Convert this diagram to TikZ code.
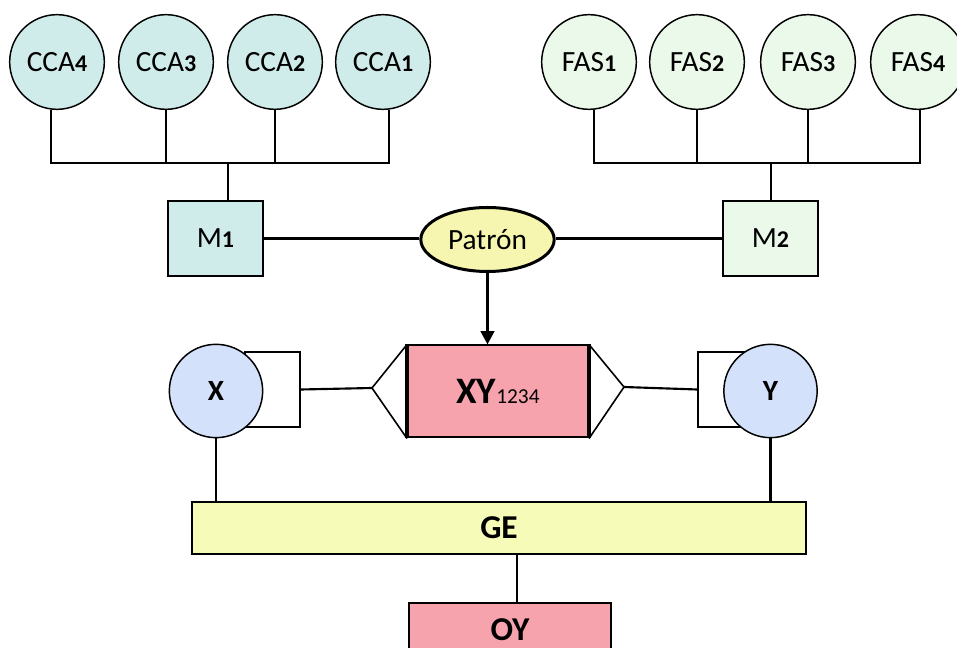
\documentclass[tikz,border=0pt]{standalone}
\usepackage{fontspec}
\setmainfont{Carlito}
\usetikzlibrary{arrows.meta,shapes.geometric}
\definecolor{ccafill}{HTML}{D0ECEA}
\definecolor{fasfill}{HTML}{EAF9EA}
\definecolor{patfill}{HTML}{F6F6B0}
\definecolor{xyfill}{HTML}{F6A3AE}
\definecolor{varfill}{HTML}{D3E1FA}
\definecolor{gefill}{HTML}{F6FBB8}
\newcommand{\dg}[1]{{\fontsize{18}{20}\selectfont\bfseries #1}}

\begin{document}
\begin{tikzpicture}[x=0.75pt, y=-0.75pt,
  ring/.style={circle, draw, line width=1.1pt, minimum size=71pt, inner sep=0pt,
    font=\fontsize{22}{25}\selectfont},
  mbox/.style={rectangle, draw, line width=1.3pt, minimum width=71pt, minimum height=56pt,
    font=\fontsize{22}{25}\selectfont},
  link/.style={line width=1.6pt}]
  \useasboundingbox (0,0) rectangle (957,648);
  \clip (0,0) rectangle (957,648);
  % top row of circles
  \node[ring, fill=ccafill] (cca4) at (57,62) {CCA\dg{4}};
  \node[ring, fill=ccafill] (cca3) at (166,62) {CCA\dg{3}};
  \node[ring, fill=ccafill] (cca2) at (275,62) {CCA\dg{2}};
  \node[ring, fill=ccafill] (cca1) at (383,62) {CCA\dg{1}};
  \node[ring, fill=fasfill] (fas1) at (589,62) {FAS\dg{1}};
  \node[ring, fill=fasfill] (fas2) at (697,62) {FAS\dg{2}};
  \node[ring, fill=fasfill] (fas3) at (808,62) {FAS\dg{3}};
  \node[ring, fill=fasfill] (fas4) at (918,62) {FAS\dg{4}};
  % M boxes and pattern
  \node[mbox, fill=ccafill] (m1) at (215.5,238.5) {M\dg{1}};
  \node[mbox, fill=fasfill] (m2) at (770.5,238.5) {M\dg{2}};
  \node[ellipse, draw, line width=2.25pt, fill=patfill, minimum width=100pt, minimum height=48pt,
    inner sep=0pt, font=\fontsize{22}{25}\selectfont] (pat) at (487.5,239.5) {Patrón};
  \coordinate (jc) at (228,163);
  \coordinate (jf) at (771,163);
  % tree connectors
  \draw[link] (cca4.-97) |- (cca1.-83 |- jc) -- (cca1.-83);
  \draw[link] (cca3.south) -- (cca3.south |- jc);
  \draw[link] (cca2.south) -- (cca2.south |- jc);
  \draw[link] (jc) -- (jc |- m1.north);
  \draw[link] (fas1.-84) |- (fas4.-88 |- jf) -- (fas4.-88);
  \draw[link] (fas2.south) -- (fas2.south |- jf);
  \draw[link] (fas3.south) -- (fas3.south |- jf);
  \draw[link] (jf) -- (jf |- m2.north);
  \draw[link] (m1.east) -- (m1.east -| pat.west);
  \draw[link] (m2.west) -- (m2.west -| pat.east);
  % middle row
  \node[rectangle, draw, line width=1.3pt, minimum width=41pt, minimum height=56pt] (xb) at (272.5,389.5) {};
  \node[rectangle, draw, line width=1.3pt, minimum width=35pt, minimum height=56pt] (yb) at (721.5,389.5) {};
  \node[ring, fill=varfill, minimum size=70pt, font=\fontsize{22}{25}\selectfont\bfseries] (x) at (216,391) {X};
  \node[ring, fill=varfill, minimum size=70pt, font=\fontsize{22}{25}\selectfont\bfseries] (y) at (770.5,391) {Y};
  \node[rectangle, draw, line width=1.5pt, fill=xyfill, minimum width=135pt, minimum height=69pt]
    (xy) at (498,391.5) {{\fontsize{28}{30}\selectfont\bfseries XY}{\fontsize{16}{18}\selectfont 1234}};
  \draw[line width=2.4pt] (xy.north west) -- (xy.south west);
  \draw[line width=2.4pt] (xy.north east) -- (xy.south east);
  \coordinate (tl) at (372,388);
  \coordinate (tr) at (624,387);
  \draw[line width=1.2pt, line join=miter] (xy.north west) -- (tl) -- (xy.south west);
  \draw[line width=1.2pt, line join=miter] (xy.north east) -- (tr) -- (xy.south east);
  \draw[link] (xb.east) -- (tl);
  \draw[link] (tr) -- (yb.west);
  \draw[line width=2.25pt, -{Triangle[width=10pt,length=10pt]}] (pat.south) -- (pat.south |- xy.north);
  % bottom
  \node[rectangle, draw, line width=1.3pt, fill=gefill, minimum width=460pt, minimum height=39pt,
    font=\fontsize{25}{28}\selectfont\bfseries] (ge) at (499,528) {GE};
  \node[rectangle, draw, line width=1.3pt, fill=xyfill, minimum width=151pt, minimum height=40pt,
    inner ysep=1pt, font=\fontsize{25}{28}\selectfont\bfseries] (oy) at (510,629.5) {OY};
  \draw[link] (x.south) -- (x.south |- ge.north);
  \draw[link] (y.south) -- (y.south |- ge.north);
  \draw[link] ([xshift=5.25pt]oy.north) -- ([xshift=5.25pt]oy.north |- ge.south);
\end{tikzpicture}
\end{document}
